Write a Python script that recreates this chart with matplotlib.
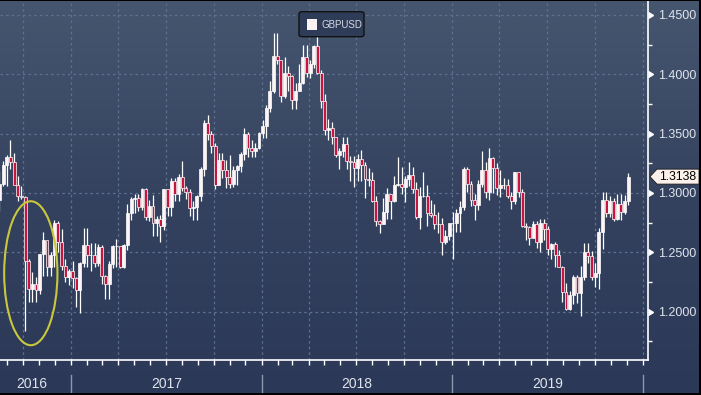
import numpy as np
import pandas as pd
import matplotlib
matplotlib.use('Agg')
import matplotlib.pyplot as plt
import matplotlib.dates as mdates
from matplotlib.patches import Ellipse, Polygon, Rectangle, FancyBboxPatch
from matplotlib.colors import LinearSegmentedColormap
from matplotlib.ticker import MultipleLocator, FormatStrFormatter, NullFormatter
from matplotlib import transforms, markers

plt.rcParams['font.family'] = ['Liberation Sans', 'DejaVu Sans']

# weekly GBPUSD candles, first week starts Mon 2016-08-15
week_start = '2016-08-15'
first_open = 1.2940

highs = [
    # 2016
    1.3185, 1.3270, 1.3320, 1.3445, 1.3340, 1.3140, 1.3060, 1.2975, 1.2440, 1.2335,
    1.2290, 1.2490, 1.2675, 1.2590, 1.2500, 1.2775, 1.2765, 1.2700, 1.2440, 1.2360,
    # 2017
    1.2430, 1.2290, 1.2415, 1.2705, 1.2705, 1.2580, 1.2580, 1.2570, 1.2560, 1.2310,
    1.2430, 1.2560, 1.2615, 1.2550, 1.2570, 1.2905, 1.2965, 1.2990, 1.2990, 1.3045,
    1.3045, 1.2940, 1.2980, 1.2810, 1.2815, 1.3030, 1.3030, 1.3125, 1.3125, 1.3160,
    1.3270, 1.3060, 1.3030, 1.2930, 1.2980, 1.3220, 1.3615, 1.3655, 1.3525, 1.3420,
    1.3340, 1.3340, 1.3280, 1.3320, 1.3225, 1.3235, 1.3345, 1.3550, 1.3515, 1.3450,
    1.3425, 1.3515,
    # 2018
    1.3615, 1.3745, 1.3945, 1.4345, 1.4345, 1.4105, 1.4145, 1.4070, 1.3990, 1.3930,
    1.4090, 1.4245, 1.4245, 1.4120, 1.4245, 1.4375, 1.4040, 1.3835, 1.3620, 1.3600,
    1.3475, 1.3375, 1.3470, 1.3470, 1.3315, 1.3315, 1.3325, 1.3365, 1.3260, 1.3210,
    1.3175, 1.2975, 1.2775, 1.2955, 1.3045, 1.2995, 1.3145, 1.3300, 1.3215, 1.3145,
    1.3260, 1.3215, 1.3090, 1.3050, 1.3175, 1.3070, 1.2945, 1.2905, 1.2840, 1.2790,
    1.2690, 1.2720,
    # 2019
    1.2840, 1.2865, 1.2935, 1.3215, 1.3215, 1.3105, 1.2990, 1.3110, 1.3350, 1.3260,
    1.3380, 1.3300, 1.3255, 1.3195, 1.3130, 1.3120, 1.3010, 1.3175, 1.3175, 1.3035,
    1.2750, 1.2720, 1.2765, 1.2765, 1.2780, 1.2785, 1.2720, 1.2580, 1.2585, 1.2520,
    1.2385, 1.2245, 1.2175, 1.2310, 1.2310, 1.2385, 1.2580, 1.2580, 1.2510, 1.2410,
    1.2705, 1.3010, 1.3010, 1.2975, 1.2955, 1.2990, 1.2990, 1.2985, 1.3170,
]

lows = [
    # 2016
    1.2850, 1.3055, 1.3055, 1.3200, 1.3090, 1.2930, 1.2950, 1.1840, 1.2085, 1.2080,
    1.2085, 1.2150, 1.2300, 1.2300, 1.2300, 1.2380, 1.2505, 1.2350, 1.2250, 1.2225,
    # 2017
    1.2200, 1.2040, 1.1985, 1.2375, 1.2380, 1.2345, 1.2380, 1.2385, 1.2230, 1.2110,
    1.2110, 1.2370, 1.2375, 1.2365, 1.2365, 1.2520, 1.2775, 1.2830, 1.2845, 1.2855,
    1.2775, 1.2765, 1.2635, 1.2635, 1.2590, 1.2690, 1.2810, 1.2810, 1.2930, 1.2935,
    1.3020, 1.2950, 1.2810, 1.2775, 1.2775, 1.2935, 1.3145, 1.3450, 1.3335, 1.3030,
    1.3070, 1.3125, 1.3040, 1.3040, 1.3050, 1.3065, 1.3180, 1.3275, 1.3305, 1.3300,
    1.3300, 1.3370,
    # 2018
    1.3460, 1.3460, 1.3680, 1.3840, 1.4085, 1.3765, 1.3800, 1.3860, 1.3710, 1.3710,
    1.3860, 1.3920, 1.3975, 1.3965, 1.4050, 1.4000, 1.3715, 1.3490, 1.3450, 1.3415,
    1.3300, 1.3205, 1.3300, 1.3205, 1.3100, 1.3050, 1.3100, 1.3100, 1.2960, 1.3060,
    1.2920, 1.2725, 1.2665, 1.2735, 1.2785, 1.2785, 1.2925, 1.3060, 1.2990, 1.2920,
    1.3060, 1.3000, 1.2780, 1.2695, 1.2965, 1.2725, 1.2800, 1.2700, 1.2660, 1.2475,
    1.2570, 1.2600,
    # 2019
    1.2440, 1.2670, 1.2670, 1.2860, 1.3005, 1.2890, 1.2770, 1.2855, 1.3050, 1.2960,
    1.2945, 1.3000, 1.2980, 1.2970, 1.3030, 1.2960, 1.2865, 1.2905, 1.2965, 1.2715,
    1.2605, 1.2560, 1.2650, 1.2535, 1.2505, 1.2605, 1.2480, 1.2440, 1.2380, 1.2375,
    1.2080, 1.2015, 1.2015, 1.2065, 1.2075, 1.1960, 1.2270, 1.2410, 1.2270, 1.2205,
    1.2195, 1.2525, 1.2800, 1.2795, 1.2765, 1.2775, 1.2770, 1.2820, 1.2895,
]

closes = [
    # 2016
    1.3075, 1.3235, 1.3300, 1.3265, 1.3070, 1.2975, 1.2970, 1.2430, 1.2190, 1.2230,
    1.2185, 1.2485, 1.2600, 1.2380, 1.2480, 1.2750, 1.2590, 1.2385, 1.2290, 1.2340,
    # 2017
    1.2280, 1.2180, 1.2410, 1.2560, 1.2480, 1.2480, 1.2410, 1.2545, 1.2300, 1.2230,
    1.2400, 1.2550, 1.2550, 1.2380, 1.2560, 1.2830, 1.2950, 1.2960, 1.2885, 1.3030,
    1.2800, 1.2890, 1.2745, 1.2780, 1.2720, 1.3030, 1.2885, 1.3100, 1.2995, 1.3135,
    1.3045, 1.3010, 1.2870, 1.2880, 1.2975, 1.3200, 1.3590, 1.3495, 1.3400, 1.3065,
    1.3280, 1.3195, 1.3135, 1.3080, 1.3190, 1.3225, 1.3325, 1.3495, 1.3375, 1.3350,
    1.3375, 1.3505,
    # 2018
    1.3565, 1.3720, 1.3860, 1.4150, 1.4120, 1.3820, 1.4015, 1.3985, 1.3780, 1.3860,
    1.3925, 1.4145, 1.4015, 1.4090, 1.4240, 1.4010, 1.3775, 1.3530, 1.3545, 1.3470,
    1.3320, 1.3355, 1.3410, 1.3270, 1.3265, 1.3210, 1.3285, 1.3235, 1.3120, 1.3110,
    1.2935, 1.2760, 1.2740, 1.2840, 1.2995, 1.2935, 1.3070, 1.3075, 1.3050, 1.3120,
    1.3150, 1.3035, 1.2795, 1.2975, 1.2975, 1.2830, 1.2815, 1.2735, 1.2735, 1.2590,
    1.2635, 1.2750,
    # 2019
    1.2745, 1.2835, 1.2880, 1.3200, 1.3075, 1.2940, 1.2900, 1.3075, 1.3190, 1.3005,
    1.3295, 1.3210, 1.3040, 1.3065, 1.3070, 1.2975, 1.2935, 1.3180, 1.3005, 1.2725,
    1.2710, 1.2625, 1.2735, 1.2590, 1.2745, 1.2695, 1.2525, 1.2570, 1.2480, 1.2380,
    1.2165, 1.2020, 1.2140, 1.2290, 1.2160, 1.2290, 1.2500, 1.2465, 1.2290, 1.2330,
    1.2670, 1.2945, 1.2830, 1.2930, 1.2780, 1.2910, 1.2840, 1.2930, 1.3138,
]

year_labels = ['2016', '2017', '2018', '2019']
series_name = 'GBPUSD'

# colours
red = '#c8153f'
up_col = '#fff4f4'
grid_col = '#5d7190'
txt_col = '#dfe4ec'

dates = pd.date_range(week_start, periods=len(closes), freq='W-MON') + pd.Timedelta(days=2)
x = mdates.date2num(dates)
o = np.array([first_open] + closes[:-1])
c = np.array(closes)
h = np.array(highs)
l = np.array(lows)

W, H = 701, 395
fig = plt.figure(figsize=(W / 100, H / 100), dpi=100)

# background gradient over whole figure
bg = fig.add_axes([0, 0, 1, 1], zorder=-10)
grad = np.linspace(1, 0, 256).reshape(-1, 1)
cmap = LinearSegmentedColormap.from_list('bbg', ['#2b3857', '#34425f', '#47566f'])
bg.imshow(grad, aspect='auto', cmap=cmap, extent=[0, 1, 0, 1])
bg.axis('off')

ax = fig.add_axes([0, 35 / H, 648 / W, 1 - 35 / H], zorder=1)
ax.set_facecolor('none')

x0 = mdates.date2num(pd.Timestamp('2016-08-18'))
x1 = mdates.date2num(pd.Timestamp('2020-01-11'))
ax.set_xlim(x0, x1)
ax.set_ylim(1.1593, 1.4626)

# grid
ax.yaxis.set_major_locator(MultipleLocator(0.05))
ax.yaxis.set_minor_locator(MultipleLocator(0.025))
ax.grid(axis='y', which='major', color=grid_col, linestyle=(0, (2, 2.5)), lw=0.9, zorder=0)
for q in pd.date_range('2016-10-01', '2020-01-01', freq='QS'):
    ax.axvline(mdates.date2num(q), color=grid_col, linestyle=(0, (2, 2.5)), lw=0.9, zorder=0)

# candles
ax.vlines(x, l, h, color='white', lw=0.9, zorder=3)
cols = [up_col if cc >= oo else red for oo, cc in zip(o, c)]
ax.bar(x, c - o, bottom=o, width=5.6, color=cols, edgecolor='white', linewidth=0.5, zorder=4)

# circle round the Oct 2016 flash crash
ell = Ellipse((mdates.date2num(pd.Timestamp('2016-10-16')), 1.2324), width=102, height=0.1213,
              fill=False, edgecolor='#c9c83c', lw=1.5, zorder=5)
ax.add_patch(ell)

# axes look
for s in ['left', 'top']:
    ax.spines[s].set_visible(False)
for s in ['right', 'bottom']:
    ax.spines[s].set_color('white')
    ax.spines[s].set_linewidth(1.2)

ax.yaxis.tick_right()
ax.yaxis.set_major_formatter(FormatStrFormatter('%.4f'))
ax.tick_params(axis='y', which='major', length=0, pad=7.5, labelsize=9, labelcolor=txt_col)
ax.tick_params(axis='y', which='minor', length=3, width=1, color='white')
yt = [v for v in np.arange(1.20, 1.451, 0.05)]
tr = transforms.blended_transform_factory(ax.transAxes, ax.transData)
ax.plot([1.0] * len(yt), yt, linestyle='none', marker=markers.CARETRIGHTBASE, markersize=5,
        color='white', transform=tr, clip_on=False, zorder=6)

ax.xaxis.set_major_locator(mdates.MonthLocator())
ax.xaxis.set_major_formatter(NullFormatter())
ax.tick_params(axis='x', which='major', length=3.5, width=1, color='white')

# year labels and separators below the axis
trx = transforms.blended_transform_factory(ax.transData, ax.transAxes)
bounds = [x0] + [mdates.date2num(pd.Timestamp(f'{y}-01-01')) for y in (2017, 2018, 2019, 2020)]
for i, yl in enumerate(year_labels):
    mid = (bounds[i] + min(bounds[i + 1], x1)) / 2
    if i == 0:
        mid -= 8
    ax.text(mid, -0.068, yl, transform=trx, ha='center', va='center', fontsize=10, color=txt_col)
for b in bounds[1:]:
    ax.plot([b, b], [-0.042, -0.1], transform=trx, color='#8e98aa', lw=1, clip_on=False)

# last price tag
last = closes[-1]
hh = 0.0063
pts = [(650 / 648, last), (657 / 648, last + hh), (699 / 648, last + hh),
       (699 / 648, last - hh), (657 / 648, last - hh)]
ax.add_patch(Polygon(pts, closed=True, transform=tr, facecolor='#fbf1ea', edgecolor='#1a1a1a',
                     lw=0.6, clip_on=False, zorder=7))
ax.text(678 / 648, last, f'{last:.4f}', transform=tr, ha='center', va='center',
        fontsize=8.8, color='black', zorder=8)

# legend box
fig.patches.append(FancyBboxPatch((299 / W, 1 - 36.7 / H), 65 / W, 25 / H,
                                  boxstyle='round,pad=0,rounding_size=0.005',
                                  transform=fig.transFigure, facecolor='#2f3c58',
                                  edgecolor='#111111', lw=1, zorder=9))
fig.patches.append(Rectangle((306.5 / W, 1 - 29.5 / H), 10.5 / W, 10.5 / H,
                             transform=fig.transFigure, facecolor='#fdf2f2', edgecolor='none', zorder=10))
fig.text(321 / W, 1 - 24.5 / H, series_name, ha='left', va='center', fontsize=7, color='#d5dae3', zorder=11)

# black frame on right, bottom, top
fig.patches.append(Rectangle((698.5 / W, 0), 2.5 / W, 1, transform=fig.transFigure,
                             facecolor='black', edgecolor='none', zorder=20))
fig.patches.append(Rectangle((0, 0), 1, 2 / H, transform=fig.transFigure,
                             facecolor='black', edgecolor='none', zorder=20))
fig.patches.append(Rectangle((0, 1 - 1 / H), 1, 1 / H, transform=fig.transFigure,
                             facecolor='black', edgecolor='none', zorder=20))

fig.savefig('out.png', dpi=100)
